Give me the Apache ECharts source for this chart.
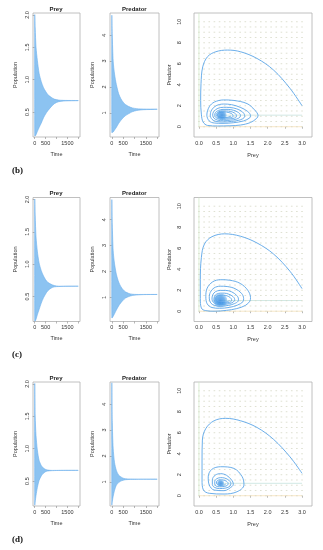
<!DOCTYPE html>
<html><head><meta charset="utf-8">
<style>html,body{margin:0;padding:0;background:#fff}#c{width:323px;height:550px}</style>
<script src="https://cdn.jsdelivr.net/npm/echarts@6/dist/echarts.min.js"></script>
</head><body><div id="c"></div>
<script>
// ---------- data ----------
const rowLabels = ['(b)', '(c)', '(d)'];
const timeTicks = [0, 500, 1000, 1500, 2000];
const timeTickLabels = [0, 500, 1500];
const preyTicks = [0.5, 1.0, 1.5, 2.0];
const predTicks = [1, 2, 3, 4];
const phaseXTicks = [0, 0.5, 1.0, 1.5, 2.0, 2.5, 3.0];
const phaseYTicks = [0, 2, 4, 6, 8, 10];

const time = [0, 20, 60, 120, 200, 300, 400, 500, 600, 750, 900, 1100, 1400, 2000];

const preyUpperB = [2.0, 1.8, 1.5, 1.3, 1.1, 0.97, 0.88, 0.82, 0.77, 0.73, 0.70, 0.685, 0.68, 0.678];
const preyLowerB = [0.13, 0.13, 0.15, 0.2, 0.26, 0.33, 0.41, 0.47, 0.52, 0.58, 0.63, 0.66, 0.672, 0.676];
const predUpperB = [4.75, 4.0, 3.0, 2.5, 2.1, 1.75, 1.55, 1.42, 1.33, 1.25, 1.2, 1.17, 1.155, 1.15];
const predLowerB = [0.25, 0.25, 0.27, 0.35, 0.45, 0.6, 0.72, 0.82, 0.9, 0.98, 1.05, 1.1, 1.13, 1.145];

const preyUpperC = [2.0, 1.75, 1.42, 1.2, 1.02, 0.9, 0.82, 0.76, 0.72, 0.69, 0.67, 0.66, 0.66, 0.66];
const preyLowerC = [0.12, 0.12, 0.15, 0.22, 0.3, 0.4, 0.48, 0.54, 0.59, 0.63, 0.65, 0.655, 0.658, 0.66];
const predUpperC = [4.75, 3.8, 2.8, 2.3, 1.9, 1.6, 1.42, 1.3, 1.22, 1.16, 1.13, 1.12, 1.12, 1.12];
const predLowerC = [0.22, 0.22, 0.28, 0.38, 0.52, 0.68, 0.8, 0.9, 0.98, 1.04, 1.08, 1.1, 1.115, 1.12];

const preyUpperD = [2.0, 1.5, 1.2, 0.98, 0.82, 0.74, 0.7, 0.68, 0.67, 0.665, 0.665, 0.665, 0.665, 0.665];
const preyLowerD = [0.13, 0.18, 0.28, 0.4, 0.51, 0.58, 0.62, 0.645, 0.655, 0.66, 0.662, 0.664, 0.665, 0.665];
const predUpperD = [4.8, 3.3, 2.3, 1.75, 1.45, 1.27, 1.2, 1.15, 1.13, 1.12, 1.115, 1.11, 1.11, 1.11];
const predLowerD = [0.12, 0.25, 0.45, 0.68, 0.88, 0.98, 1.04, 1.07, 1.09, 1.1, 1.105, 1.108, 1.11, 1.11];

// phase trajectories (prey, predator)
const phasePreyB = [3.0,2.65,2.17,1.69,1.21,0.83,0.49,0.25,0.11,0.06,0.05,0.07,0.12,0.25,0.54,0.9,1.21,1.5,1.68,
  1.72,1.62,1.4,1.02,0.72,0.45,0.3,0.23,0.3,0.45,0.7,1.0,1.3,1.48,
  1.5,1.42,1.2,0.95,0.72,0.5,0.37,0.33,0.38,0.5,0.7,0.95,1.2,1.32,
  1.33,1.27,1.1,0.9,0.72,0.55,0.43,0.4,0.44,0.55,0.72,0.92,1.1,1.19,
  1.21,1.15,1.0,0.85,0.7,0.57,0.48,0.46,0.5,0.6,0.72,0.9,1.03,1.09,
  1.09,1.04,0.92,0.8,0.68,0.57,0.51,0.5,0.54,0.62,0.72,0.86,0.96,1.0,
  0.99,0.95,0.85,0.75,0.66,0.58,0.54,0.54,0.57,0.64,0.73,0.84,0.9,0.93];
const phasePredB = [2.0,3.65,5.4,6.5,7.14,7.3,7.14,6.67,5.7,4.1,2.5,1.2,0.45,0.12,0.07,0.09,0.16,0.4,0.8,
  1.05,1.6,2.2,2.5,2.55,2.35,1.9,1.1,0.55,0.35,0.32,0.38,0.55,0.85,
  1.05,1.45,1.85,2.1,2.16,2.0,1.6,1.1,0.7,0.5,0.45,0.5,0.65,0.88,
  1.05,1.4,1.7,1.83,1.85,1.75,1.45,1.1,0.8,0.62,0.57,0.62,0.73,0.9,
  1.07,1.35,1.57,1.65,1.65,1.55,1.35,1.1,0.85,0.72,0.7,0.74,0.82,0.95,
  1.08,1.3,1.45,1.5,1.5,1.42,1.27,1.1,0.92,0.83,0.8,0.83,0.9,1.0,
  1.08,1.25,1.36,1.4,1.39,1.32,1.2,1.08,0.96,0.89,0.87,0.9,0.96,1.02];
const centerB = [0.66, 1.1];

const phasePreyC = [3.0,2.65,2.17,1.69,1.21,0.75,0.38,0.16,0.07,0.04,0.04,0.07,0.2,0.45,0.8,1.1,1.35,1.48,
  1.5,1.42,1.2,0.9,0.63,0.4,0.24,0.2,0.24,0.38,0.6,0.88,1.12,1.28,
  1.3,1.24,1.05,0.82,0.62,0.44,0.33,0.3,0.34,0.45,0.62,0.85,1.03,1.14,
  1.15,1.1,0.95,0.78,0.62,0.48,0.4,0.38,0.42,0.51,0.64,0.82,0.96,1.03,
  1.04,0.99,0.87,0.74,0.62,0.51,0.45,0.44,0.47,0.55,0.65,0.79,0.9,0.95,
  0.95,0.91,0.82,0.71,0.61,0.53,0.49,0.49,0.52,0.58,0.66,0.77,0.85,0.88];
const phasePredC = [2.15,3.8,5.45,6.5,7.14,7.37,7.1,6.4,5.1,3.0,1.2,0.3,0.05,0.0,0.08,0.25,0.55,0.95,
  1.3,2.0,2.65,2.95,3.0,2.8,2.2,1.4,0.7,0.35,0.28,0.36,0.58,0.9,
  1.2,1.7,2.15,2.35,2.38,2.22,1.8,1.25,0.8,0.55,0.48,0.55,0.72,0.95,
  1.15,1.5,1.85,1.98,1.98,1.86,1.55,1.15,0.85,0.68,0.63,0.68,0.8,0.98,
  1.12,1.4,1.62,1.72,1.72,1.62,1.4,1.1,0.88,0.76,0.73,0.77,0.86,1.0,
  1.1,1.3,1.46,1.53,1.52,1.44,1.28,1.08,0.92,0.84,0.82,0.85,0.92,1.02];
const centerC = [0.62, 1.02];

const phasePreyD = [3.0,2.65,2.17,1.69,1.21,0.78,0.44,0.2,0.1,0.09,0.09,0.13,0.3,0.73,1.11,1.31,
  1.26,1.02,0.63,0.37,0.27,0.3,0.44,0.73,0.97,
  1.0,0.95,0.8,0.63,0.47,0.39,0.39,0.46,0.6,0.78,0.9,
  0.93,0.88,0.75,0.63,0.52,0.46,0.46,0.5,0.6,0.74,0.83,
  0.85,0.8,0.7,0.62,0.54,0.51,0.52,0.57,0.65,0.74,0.78];
const phasePredD = [2.13,3.7,5.37,6.5,7.14,7.37,7.14,6.4,5.3,3.4,1.5,0.54,0.23,0.16,0.38,1.02,
  1.8,2.6,2.76,2.5,1.8,1.02,0.54,0.48,0.9,
  1.1,1.5,1.95,2.1,1.95,1.5,1.05,0.78,0.68,0.73,0.9,
  1.15,1.45,1.68,1.72,1.62,1.38,1.12,0.92,0.85,0.88,1.0,
  1.17,1.38,1.5,1.52,1.45,1.3,1.12,1.02,0.99,1.03,1.12];
const centerD = [0.63, 1.18];

// vector-field sample positions
const fieldX = [0,0.15,0.3,0.45,0.6,0.75,0.9,1.05,1.2,1.35,1.5,1.65,1.8,1.95,2.1,2.25,2.4,2.55,2.7,2.85,3.0];
const fieldY = [0,0.5,1,1.5,2,2.5,3,3.5,4,4.5,5,5.5,6,6.5,7,7.5,8,8.5,9,9.5,10];

const rows = [
  {pu: preyUpperB, pl: preyLowerB, du: predUpperB, dl: predLowerB, px: phasePreyB, py: phasePredB, c: centerB, blob: 10},
  {pu: preyUpperC, pl: preyLowerC, du: predUpperC, dl: predLowerC, px: phasePreyC, py: phasePredC, c: centerC, blob: 14},
  {pu: preyUpperD, pl: preyLowerD, du: predUpperD, dl: predLowerD, px: phasePreyD, py: phasePredD, c: centerD, blob: 7}
];

// ---------- layout / style ----------
const rowOffset = [0, 184.5, 369];
const FONT = 'Liberation Sans';
const TXT = '#333';
const FRAME = '#b0b0b0';
const BAND = '#8cc3f1';
const EDGE = '#6db0ec';
const TRAJ = '#5aa5e8';

const grids = [], xAxes = [], yAxes = [], series = [], graphics = [];

function tickAxis(o) {
  return Object.assign({
    axisLine: {show: false},
    splitLine: {show: false},
    axisTick: {show: true, length: 2, lineStyle: {color: '#888', width: 0.6}, customValues: o.ticks},
    axisLabel: {fontSize: 5.5, color: TXT, fontFamily: FONT, margin: 3, customValues: o.labels || o.ticks,
      formatter: o.fmt || (v => String(v))},
    nameTextStyle: {fontSize: 5.5, color: TXT, fontFamily: FONT}
  }, o.extra || {});
}

rows.forEach((r, i) => {
  const oy = rowOffset[i];
  const gi = grids.length;
  grids.push({left: 33, top: 13 + oy, width: 47, height: 124, show: true, borderColor: FRAME, borderWidth: 0.8, backgroundColor: 'transparent'});
  grids.push({left: 110, top: 13 + oy, width: 49, height: 124, show: true, borderColor: FRAME, borderWidth: 0.8, backgroundColor: 'transparent'});
  grids.push({left: 194, top: 13 + oy, width: 118, height: 124, show: true, borderColor: FRAME, borderWidth: 0.8, backgroundColor: 'transparent'});

  [0, 1].forEach(k => {
    xAxes.push(Object.assign(tickAxis({ticks: timeTicks, labels: timeTickLabels}), {
      type: 'value', gridIndex: gi + k, min: -80, max: 2080,
      name: 'Time', nameLocation: 'middle', nameGap: 14
    }));
  });
  xAxes.push(Object.assign(tickAxis({ticks: phaseXTicks, fmt: v => v.toFixed(1)}), {
    type: 'value', gridIndex: gi + 2, min: -0.144, max: 3.29,
    name: 'Prey', nameLocation: 'middle', nameGap: 15
  }));

  yAxes.push(Object.assign(tickAxis({ticks: preyTicks, fmt: v => v.toFixed(1)}), {
    type: 'value', gridIndex: gi, min: 0.115, max: 2.03,
    name: 'Population', nameLocation: 'middle', nameGap: 15
  }));
  yAxes[yAxes.length - 1].axisLabel.rotate = 90;
  yAxes.push(Object.assign(tickAxis({ticks: predTicks}), {
    type: 'value', gridIndex: gi + 1, min: 0.08, max: 4.85,
    name: 'Population', nameLocation: 'middle', nameGap: 15
  }));
  yAxes[yAxes.length - 1].axisLabel.rotate = 90;
  yAxes.push(Object.assign(tickAxis({ticks: phaseYTicks}), {
    type: 'value', gridIndex: gi + 2, min: -0.98, max: 10.83,
    name: 'Predator', nameLocation: 'middle', nameGap: 22
  }));
  yAxes[yAxes.length - 1].axisLabel.rotate = 90;
  yAxes[yAxes.length - 1].axisLabel.margin = 12;
  yAxes[yAxes.length - 1].axisTick.show = false;

  // time-series oscillation band: polygon between upper and lower envelopes
  const band = (ax, up, lo) => {
    series.push({type: 'custom', xAxisIndex: ax, yAxisIndex: ax, clip: true, silent: true, z: 2,
      data: [[0, up[0]]], encode: {x: 0, y: 1},
      renderItem: (params, api) => {
        const pts = [];
        time.forEach((t, j) => pts.push(api.coord([t, up[j]])));
        for (let j = time.length - 1; j >= 0; j--) pts.push(api.coord([time[j], lo[j]]));
        return {type: 'polygon', shape: {points: pts, smooth: 0.25},
          style: {fill: BAND, stroke: EDGE, lineWidth: 0.6}};
      }});
  };
  band(gi, r.pu, r.pl);
  band(gi + 1, r.du, r.dl);

  const field = [];
  fieldX.forEach(x => fieldY.forEach(y => field.push([x, y])));
  series.push({type: 'scatter', xAxisIndex: gi + 2, yAxisIndex: gi + 2, symbol: 'rect', symbolSize: [1.6, 1],
    itemStyle: {color: '#d6d8c6'}, data: field, silent: true, z: 1});
  series.push({type: 'line', xAxisIndex: gi + 2, yAxisIndex: gi + 2, symbol: 'none',
    lineStyle: {width: 0.7, color: '#cde8c4'}, data: [[0, 0], [0, 10.83]], z: 1});
  series.push({type: 'line', xAxisIndex: gi + 2, yAxisIndex: gi + 2, symbol: 'none',
    lineStyle: {width: 0.7, color: '#f5dcae'}, data: [[0, 0], [3.0, 0]], z: 1});
  series.push({type: 'line', xAxisIndex: gi + 2, yAxisIndex: gi + 2, symbol: 'none',
    lineStyle: {width: 0.7, color: '#bfe0da'}, data: [[r.c[0], r.c[1]], [3.0, r.c[1]]], z: 1});
  series.push({type: 'line', xAxisIndex: gi + 2, yAxisIndex: gi + 2, symbol: 'none', smooth: 0.35,
    lineStyle: {width: 0.9, color: TRAJ}, data: r.px.map((x, j) => [x, r.py[j]]), z: 4});
  series.push({type: 'scatter', xAxisIndex: gi + 2, yAxisIndex: gi + 2, symbolSize: r.blob,
    itemStyle: {color: new echarts.graphic.RadialGradient(0.5, 0.5, 0.5, [
      {offset: 0, color: '#2f86e0'}, {offset: 0.6, color: '#4f9fe8'}, {offset: 1, color: 'rgba(110,176,236,0.6)'}])},
    data: [r.c], z: 5});

  graphics.push({type: 'text', left: 56.5 - 7, top: 6 + oy, style: {text: 'Prey', font: 'bold 6px ' + FONT, fill: '#222'}});
  graphics.push({type: 'text', left: 134.5 - 12.5, top: 6 + oy, style: {text: 'Predator', font: 'bold 6px ' + FONT, fill: '#222'}});
  graphics.push({type: 'text', left: 12, top: 166 + oy, style: {text: rowLabels[i], font: 'bold 9px "Liberation Serif"', fill: '#111'}});
});

const chart = echarts.init(document.getElementById('c'), null, {renderer: 'canvas'});
chart.setOption({
  animation: false,
  backgroundColor: '#fff',
  grid: grids, xAxis: xAxes, yAxis: yAxes, series: series,
  graphic: graphics
});
</script></body></html>
